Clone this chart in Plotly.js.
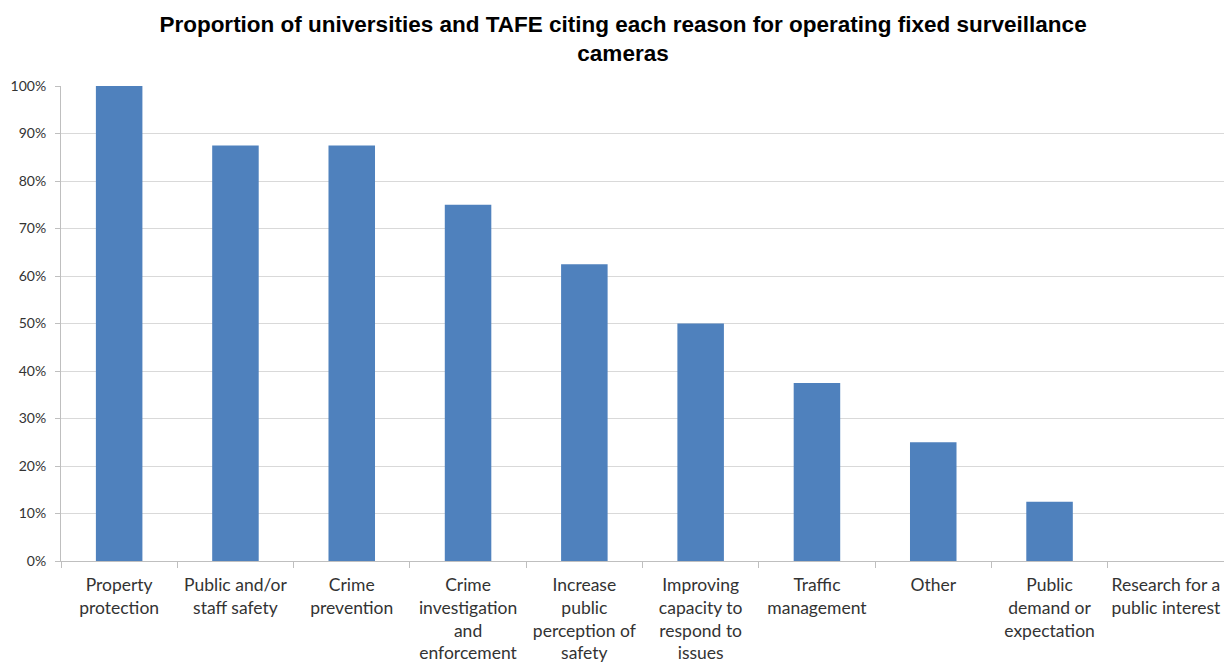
<!DOCTYPE html>
<html>
<head>
<meta charset="utf-8">
<script src="https://cdn.plot.ly/plotly-3.0.1.min.js"></script>
<style>
  html, body { margin: 0; padding: 0; background: #ffffff; }
  #chart { width: 1224px; height: 666px; }
</style>
</head>
<body>
<div id="chart"></div>
<script>
// Reasons cited for operating fixed surveillance cameras
const reasons = [
  "Property<br>protection",
  "Public and/or<br>staff safety",
  "Crime<br>prevention",
  "Crime<br>investigation<br>and<br>enforcement",
  "Increase<br>public<br>perception of<br>safety",
  "Improving<br>capacity to<br>respond to<br>issues",
  "Traffic<br>management",
  "Other",
  "Public<br>demand or<br>expectation",
  "Research for a<br>public interest"
];

// Share of universities and TAFE citing each reason
const proportions = [1.00, 0.875, 0.875, 0.75, 0.625, 0.50, 0.375, 0.25, 0.125, 0.0];

const yTickValues = [0, 0.1, 0.2, 0.3, 0.4, 0.5, 0.6, 0.7, 0.8, 0.9, 1.0];

const labelFont = { family: "Lato, 'Open Sans', sans-serif", size: 17.5, color: "#333333" };

const trace = {
  type: "bar",
  x: reasons,
  y: proportions,
  marker: { color: "#4f81bd", line: { width: 0 } },
  hoverinfo: "x+y"
};

const layout = {
  width: 1224,
  height: 666,
  margin: { l: 61, r: 0, t: 86, b: 105 },
  paper_bgcolor: "#ffffff",
  plot_bgcolor: "#ffffff",
  bargap: 0.6,
  showlegend: false,
  title: {
    text: "<b>Proportion of universities and TAFE citing each reason for operating fixed surveillance<br>cameras</b>",
    font: { family: "'Liberation Sans', Arial, sans-serif", size: 22.5, color: "#000000" },
    x: 0.509,
    xanchor: "center",
    y: 0.952,
    yanchor: "top",
    yref: "container"
  },
  xaxis: {
    type: "category",
    tickfont: labelFont,
    showline: true,
    linecolor: "#bfbfbf",
    linewidth: 1,
    ticks: "outside",
    tickson: "boundaries",
    ticklen: 6,
    tickcolor: "#bfbfbf",
    ticklabelstandoff: 8,
    showgrid: false,
    tickangle: 0,
    automargin: false
  },
  yaxis: {
    range: [0, 1],
    tickvals: yTickValues,
    tickformat: ".0%",
    tickfont: { family: "Lato, 'Open Sans', sans-serif", size: 14, color: "#333333" },
    showline: true,
    linecolor: "#bfbfbf",
    linewidth: 1,
    ticks: "outside",
    ticklen: 5,
    tickcolor: "#bfbfbf",
    ticklabelstandoff: 6,
    showgrid: true,
    gridcolor: "#d9d9d9",
    gridwidth: 1,
    zeroline: false,
    automargin: false
  }
};

Plotly.newPlot("chart", [trace], layout, { displayModeBar: false, staticPlot: true });
</script>
</body>
</html>
